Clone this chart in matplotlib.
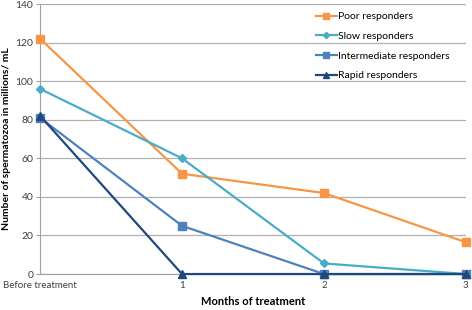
import matplotlib
matplotlib.use('Agg')
import matplotlib.pyplot as plt

plt.rcParams['font.family'] = ['Lato', 'DejaVu Sans']

# Dati
months = [0, 1, 2, 3]
month_labels = ['Before treatment', '1', '2', '3']
poor = [122, 52, 42, 16.5]
slow = [96, 60, 5.5, 0]
intermediate = [81, 25, 0, 0]
rapid = [82, 0, 0, 0]

fig = plt.figure(figsize=(4.72, 3.10), dpi=100)
ax = fig.add_axes([0.085, 0.116, 0.902, 0.871])

ax.plot(months, poor, color='#F79646', marker='s', markersize=6, lw=1.6, label='Poor responders', clip_on=False, zorder=3)
ax.plot(months, slow, color='#4BACC6', marker='D', markersize=4, lw=1.6, label='Slow responders', clip_on=False, zorder=3)
ax.plot(months, intermediate, color='#4F81BD', marker='s', markersize=5.5, lw=1.6, label='Intermediate responders', clip_on=False, zorder=3)
ax.plot(months, rapid, color='#1F497D', marker='^', markersize=5.5, lw=1.6, label='Rapid responders', clip_on=False, zorder=4)

ax.set_xlim(0, 3)
ax.set_ylim(0, 140)
ax.set_yticks(range(0, 141, 20))
ax.set_xticks(months)
ax.set_xticklabels(month_labels)
ax.grid(axis='y', color='#B0B0B0', lw=0.9)
ax.set_axisbelow(True)

for s in ['top', 'right']:
    ax.spines[s].set_visible(False)
ax.spines['left'].set_color('#A0A0A0')
ax.spines['bottom'].set_color('#A0A0A0')
ax.tick_params(axis='y', labelsize=7.5, length=3, color='#A0A0A0', pad=2, labelcolor='#404040')
ax.tick_params(axis='x', labelsize=7, length=0, pad=5, labelcolor='#404040')

ax.set_xlabel('Months of treatment', fontsize=8, fontweight='bold', labelpad=4)
ax.set_ylabel('Number of spermatozoa in millions/ mL', fontsize=7.5, fontweight='bold', labelpad=3)

leg = ax.legend(loc='upper right', bbox_to_anchor=(0.985, 1.005), frameon=False, fontsize=7.5,
                handlelength=2.0, handletextpad=0.15, labelspacing=1.0, markerscale=0.8)

fig.savefig('out.png', dpi=100)
